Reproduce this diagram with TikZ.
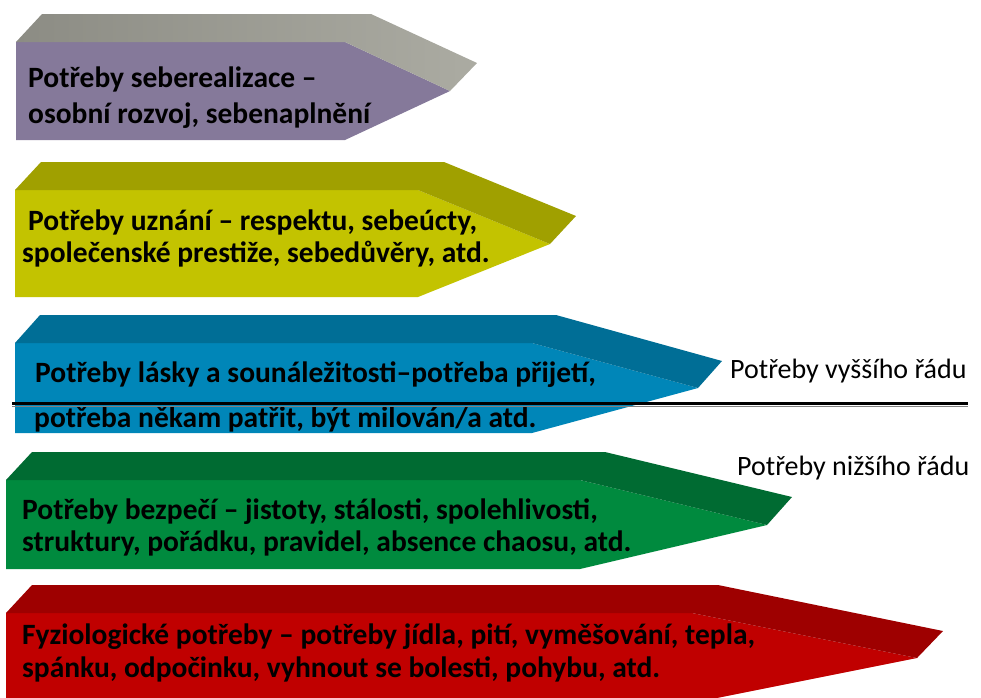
\documentclass[tikz,border=0pt]{standalone}
\usepackage{fontspec}
\setmainfont{Carlito}

\definecolor{selffront}{HTML}{85799A}
\definecolor{selftopL}{HTML}{8C8C84}
\definecolor{selftopR}{HTML}{ABABA2}
\definecolor{esteemfront}{HTML}{C3C300}
\definecolor{esteemtop}{HTML}{A0A000}
\definecolor{lovefront}{HTML}{0086B8}
\definecolor{lovetop}{HTML}{006E96}
\definecolor{safefront}{HTML}{008A3E}
\definecolor{safetop}{HTML}{006B32}
\definecolor{bodyfront}{HTML}{C00000}
\definecolor{bodytop}{HTML}{9E0000}

\tikzset{
  needtext/.style={anchor=base west, inner sep=0pt, font=\bfseries\fontsize{29.5}{30}\selectfont},
  ordertext/.style={anchor=base west, inner sep=0pt, font=\fontsize{28}{30}\selectfont},
}

\begin{document}
\begin{tikzpicture}[x=1pt, y=-1pt]
    \useasboundingbox (0,0) rectangle (981,697);
    \clip (0,0) rectangle (981,697);

    % Seberealizace (purple)
    \fill[selffront] (16,42) -- (345,42) -- (450,91) -- (345,140) -- (16,140) -- cycle;
    \shade[left color=selftopL, right color=selftopR] (16,42) -- (42,14) -- (371,14) -- (477,63) -- (450,91) -- (345,42) -- cycle;
    \node[needtext] (self1) at (28,87) {Potřeby seberealizace –};
    \node[needtext] (self2) at (28,123) {osobní rozvoj, sebenaplnění};

    % Uznani (yellow)
    \fill[esteemfront] (15,190) -- (418,190) -- (550,244) -- (418,297) -- (15,297) -- cycle;
    \fill[esteemtop] (15,190) -- (41,162) -- (444,162) -- (576,216) -- (550,244) -- (418,190) -- cycle;
    \node[needtext] (esteem1) at (28,230) {Potřeby uznání – respektu, sebeúcty,};
    \node[needtext] (esteem2) at (22,262) {společenské prestiže, sebedůvěry, atd.};

    % Laska a sounalezitost (blue)
    \fill[lovefront] (15,343) -- (532,343) -- (698,388) -- (532,433) -- (15,433) -- cycle;
    \fill[lovetop] (15,343) -- (40,315) -- (556,315) -- (722,361) -- (698,388) -- (532,343) -- cycle;
    \node[needtext] (love1) at (35,382) {Potřeby lásky a sounáležitosti–potřeba přijetí,};
    \node[needtext] (love2) at (34,427) {potřeba někam patřit, být milován/a atd.};

    % Bezpeci (green)
    \fill[safefront] (6,480) -- (580,480) -- (767,525) -- (580,569) -- (6,569) -- cycle;
    \fill[safetop] (6,480) -- (32,452) -- (605,452) -- (792,497) -- (767,525) -- (580,480) -- cycle;
    \node[needtext] (safe1) at (22,519) {Potřeby bezpečí – jistoty, stálosti, spolehlivosti,};
    \node[needtext] (safe2) at (22,551) {struktury, pořádku, pravidel, absence chaosu, atd.};

    % Fyziologicke potreby (red)
    \fill[bodyfront] (6,613) -- (692,613) -- (917,658) -- (692,703) -- (6,703) -- cycle;
    \fill[bodytop] (6,613) -- (32,585) -- (718,585) -- (943,631) -- (917,658) -- (692,613) -- cycle;
    \node[needtext] (body1) at (22,644) {Fyziologické potřeby – potřeby jídla, pití, vyměšování, tepla,};
    \node[needtext] (body2) at (22,677) {spánku, odpočinku, vyhnout se bolesti, pohybu, atd.};

    % Dividing line between higher and lower needs
    \coordinate (lineL) at (12,403.5);
    \coordinate (lineR) at (968,403.5);
    \draw[line width=3pt, black] (lineL) -- (lineR);
    \draw[line width=1.2pt, gray] ([yshift=-2.8pt]lineL) -- ([yshift=-2.8pt]lineR);

    % Order labels
    \node[ordertext] (higher) at (730,378) {Potřeby vyššího řádu};
    \node[ordertext] (lower) at (737,475) {Potřeby nižšího řádu};
\end{tikzpicture}
\end{document}
